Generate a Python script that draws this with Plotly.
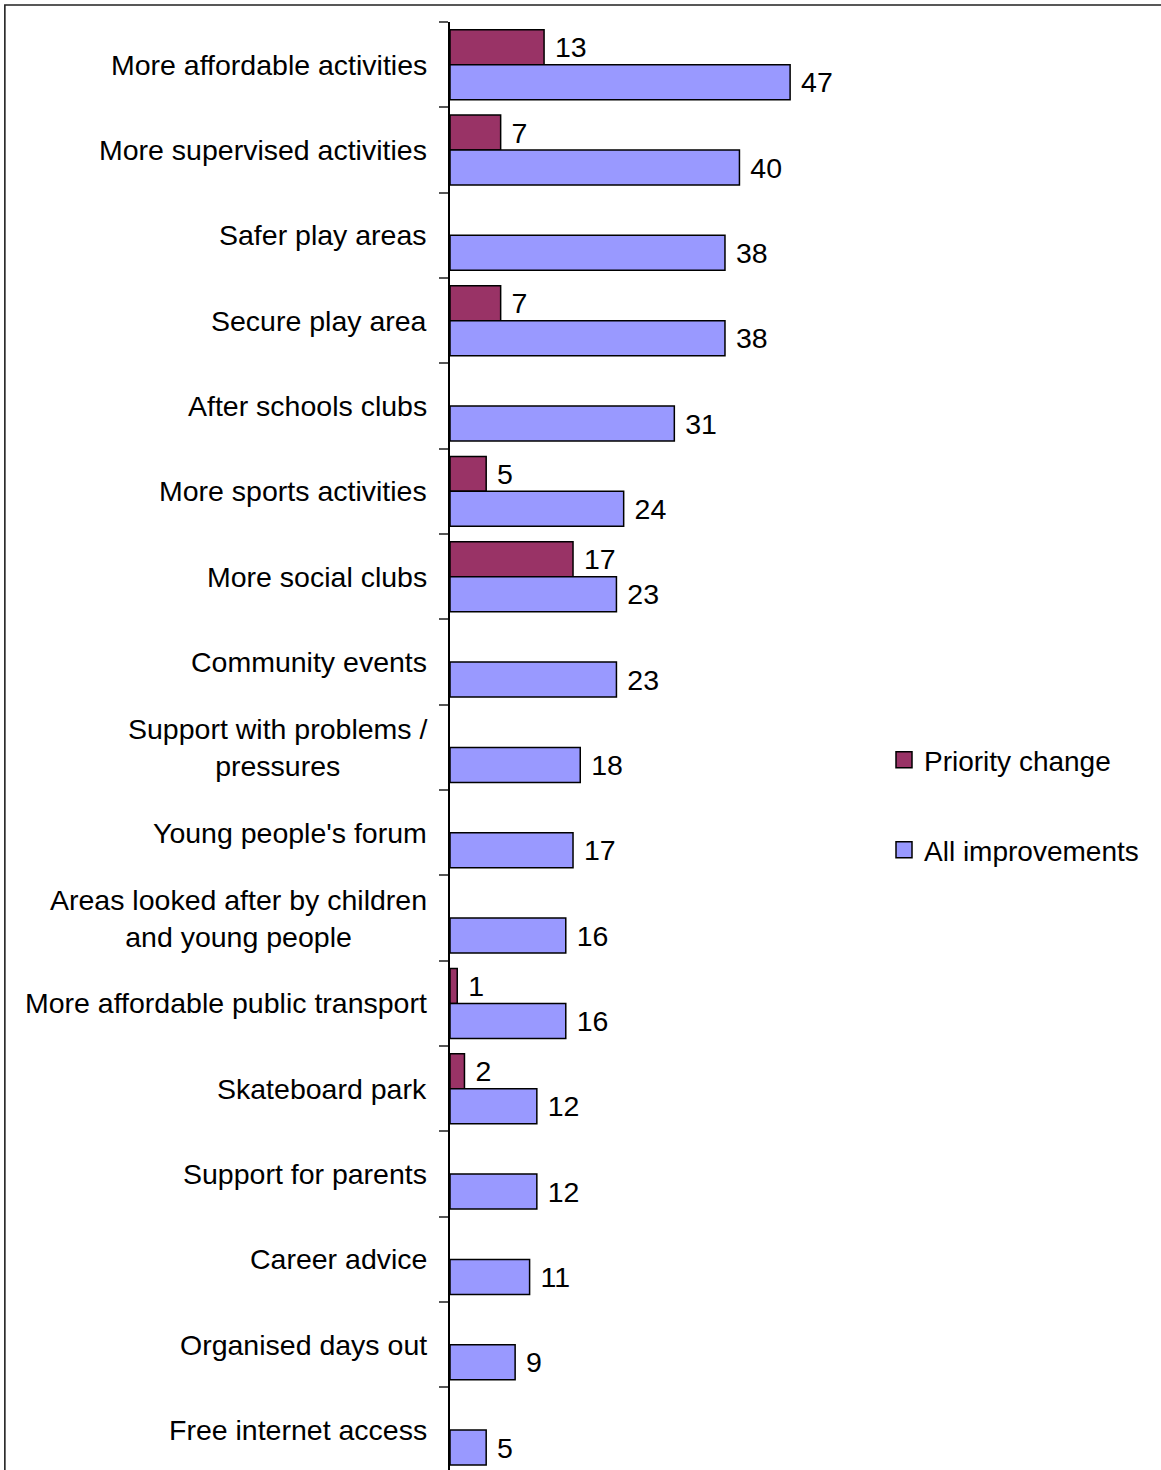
import plotly.graph_objects as go

# Survey results: suggested improvements for children and young people
categories = [
    "More affordable activities",
    "More supervised activities",
    "Safer play areas",
    "Secure play area",
    "After schools clubs",
    "More sports activities",
    "More social clubs",
    "Community events",
    "Support with problems /<br>pressures",
    "Young people's forum",
    "Areas looked after by children<br>and young people",
    "More affordable public transport",
    "Skateboard park",
    "Support for parents",
    "Career advice",
    "Organised days out",
    "Free internet access",
]
priority_change = [13, 7, None, 7, None, 5, 17, None, None, None, None, 1, 2, None, None, None, None]
all_improvements = [47, 40, 38, 38, 31, 24, 23, 23, 18, 17, 16, 16, 12, 12, 11, 9, 5]

series_names = ["Priority change", "All improvements"]
series_colors = ["#993366", "#9999FF"]

W, H = 1161, 1470
FONT = "Liberation Sans, Arial, sans-serif"
FS = 28.5
LEGEND_FS = 28

# Layout geometry (pixels)
PLOT_LEFT = 450
PX_PER_UNIT = 7.234
X_MAX = 55
PLOT_TOP = 22
BAND = 85.34

plot_w = X_MAX * PX_PER_UNIT
margin_r = W - PLOT_LEFT - plot_w
y_bottom = -0.5 + (H - PLOT_TOP) / BAND

idx = list(range(len(categories)))

fig = go.Figure()
for values, name, color in zip([priority_change, all_improvements], series_names, series_colors):
    fig.add_trace(go.Bar(
        y=idx, x=values, orientation="h", name=name, showlegend=False,
        marker=dict(color=color, line=dict(color="black", width=1.5)),
        texttemplate="\u00a0%{x}", textposition="outside", constraintext="none",
        cliponaxis=False, textfont=dict(family=FONT, size=FS, color="black"),
    ))

# Legend entries with larger square swatches
for k, (name, color) in enumerate(zip(series_names, series_colors)):
    fig.add_trace(go.Scatter(
        x=[None], y=[None], mode="markers", name=name,
        marker=dict(symbol="square", size=16, color=color, line=dict(color="black", width=1.5)),
        legend="legend" if k == 0 else "legend2", hoverinfo="skip",
    ))

# Category labels, centred line by line, to the left of the axis
for i, name in enumerate(categories):
    fig.add_annotation(
        x=0, y=i, xref="x", yref="y", text=name, showarrow=False,
        xanchor="right", yanchor="middle", align="center", xshift=-21,
        font=dict(family=FONT, size=FS, color="black"),
    )

# Chart-area border
fig.add_shape(
    type="rect", xref="paper", yref="paper",
    x0=(5 - PLOT_LEFT) / plot_w, x1=(W + 10 - PLOT_LEFT) / plot_w,
    y0=-20 / (H - PLOT_TOP), y1=1 + (PLOT_TOP - 5) / (H - PLOT_TOP),
    line=dict(color="#222222", width=1.6), fillcolor="rgba(0,0,0,0)", layer="below",
)

legend_common = dict(
    xref="container", yref="container", xanchor="left", yanchor="middle",
    font=dict(family=FONT, size=LEGEND_FS, color="black"), bgcolor="rgba(0,0,0,0)",
    itemwidth=30,
)

fig.update_layout(
    width=W, height=H,
    margin=dict(l=PLOT_LEFT, r=margin_r, t=PLOT_TOP, b=0, pad=0),
    paper_bgcolor="white", plot_bgcolor="white",
    barmode="group", bargap=0.18, bargroupgap=0,
    showlegend=True,
    legend=dict(x=884 / W, y=1 - 760 / H, **legend_common),
    legend2=dict(x=884 / W, y=1 - 850 / H, **legend_common),
    xaxis=dict(range=[0, X_MAX], visible=False, showgrid=False, zeroline=False),
    yaxis=dict(
        range=[y_bottom, -0.5], tickvals=[i - 0.5 for i in idx],
        showticklabels=False, ticks="outside", ticklen=9, tickwidth=1.6,
        tickcolor="#555555", showline=True, linecolor="black", linewidth=1.6,
        showgrid=False, zeroline=False,
    ),
)

fig.write_html("out.html")
